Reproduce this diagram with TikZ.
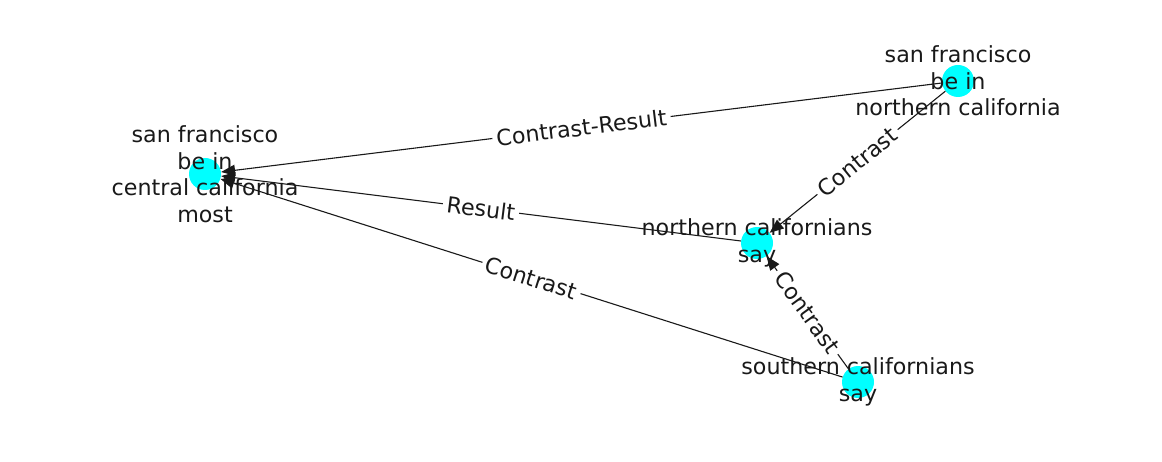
\documentclass[tikz,border=0pt]{standalone}
\usepackage{fontspec}
\setmainfont{DejaVu Sans}
\usetikzlibrary{arrows.meta}
\definecolor{aqua}{RGB}{0,255,255}
\begin{document}
\begin{tikzpicture}[x=1pt,y=-1pt,
  dot/.style={circle,fill=aqua,minimum size=32pt,inner sep=0pt},
  lbl/.style={font=\fontsize{22.2}{26.5}\selectfont,align=center,text=black!90,inner sep=0pt},
  edge/.style={draw=black!90,line width=1.1pt,-{Triangle[length=14pt,width=11pt]}},
  elbl/.style={font=\fontsize{22.2}{22}\selectfont,fill=white,inner sep=4pt,sloped,midway,text=black!90}]
\useasboundingbox (0,0) rectangle (1162,462);
\node[dot] (A) at (205,174) {};
\node[dot] (B) at (958,81) {};
\node[dot] (C) at (757,243) {};
\node[dot] (D) at (858,382) {};
\draw[edge] (B) -- node[elbl]{Contrast-Result} (A);
\draw[edge] (C) -- node[elbl]{Result} (A);
\draw[edge] (D) -- node[elbl]{Contrast} (A);
\draw[edge] (B) -- node[elbl]{Contrast} (C);
\draw[edge] (D) -- node[elbl]{Contrast} (C);
\node[lbl] (tA) at (A.center) {san francisco\\be in\\central california\\most};
\node[lbl] (tB) at (B.center) {san francisco\\be in\\northern california};
\node[lbl] (tC) at (C.center) {northern californians\\say};
\node[lbl] (tD) at (D.center) {southern californians\\say};
\end{tikzpicture}
\end{document}
